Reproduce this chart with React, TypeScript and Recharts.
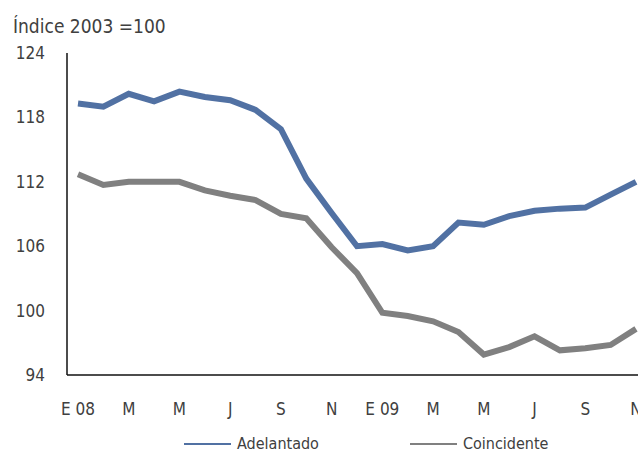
import React from 'react';
import { LineChart, Line, XAxis, YAxis } from 'recharts';

// Meses (E 08 .. N 09), se muestra uno de cada dos
const meses = [
  'E 08', 'F', 'M', 'A', 'M', 'J', 'J', 'A', 'S', 'O', 'N', 'D',
  'E 09', 'F', 'M', 'A', 'M', 'J', 'J', 'A', 'S', 'O', 'N',
];

const adelantado = [
  119.3, 119.0, 120.2, 119.5, 120.4, 119.9, 119.6, 118.7, 116.9, 112.3, 109.1, 106.0,
  106.2, 105.6, 106.0, 108.2, 108.0, 108.8, 109.3, 109.5, 109.6, 110.8, 112.0,
];

const coincidente = [
  112.7, 111.7, 112.0, 112.0, 112.0, 111.2, 110.7, 110.3, 109.0, 108.6, 105.9, 103.5,
  99.8, 99.5, 99.0, 98.0, 95.9, 96.6, 97.6, 96.3, 96.5, 96.8, 98.3,
];

const yTicks = [94, 100, 106, 112, 118, 124];

const series = [
  { key: 'adelantado', name: 'Adelantado', color: '#5171a3' },
  { key: 'coincidente', name: 'Coincidente', color: '#808080' },
];

const data = meses.map((mes, i) => ({
  mes,
  adelantado: adelantado[i],
  coincidente: coincidente[i],
}));

const FONT = '"Liberation Sans Narrow", "DejaVu Sans Condensed", "Roboto", sans-serif';
const TEXT = '#404040';

export default function App() {
  return (
    <div
      style={{
        position: 'absolute',
        left: 0,
        top: 0,
        width: 638,
        height: 453,
        overflow: 'hidden',
        background: '#fff',
        fontFamily: FONT,
      }}
    >
      <div style={{ position: 'absolute', left: 13, top: 15, fontSize: 19, lineHeight: '22px', color: TEXT, whiteSpace: 'pre' }}>
        Índice 2003 =100
      </div>

      <LineChart width={660} height={453} data={data} margin={{ top: 53, right: 10, left: 0, bottom: 0 }}>
        <XAxis
          dataKey="mes"
          interval={1}
          height={78}
          padding={{ left: 11, right: 14 }}
          axisLine={{ stroke: '#111', strokeWidth: 1.5 }}
          tickLine={false}
          tickSize={0}
          tickMargin={28}
          tick={{ fill: TEXT, fontSize: 17, fontFamily: FONT }}
        />
        <YAxis
          domain={[94, 124]}
          ticks={yTicks}
          width={67}
          axisLine={{ stroke: '#111', strokeWidth: 1.5 }}
          tickLine={false}
          tickSize={0}
          tickMargin={22}
          tick={{ fill: TEXT, fontSize: 17, fontFamily: FONT }}
        />
        {series.map((s) => (
          <Line
            key={s.key}
            type="linear"
            dataKey={s.key}
            name={s.name}
            stroke={s.color}
            strokeWidth={6}
            dot={false}
            isAnimationActive={false}
          />
        ))}
      </LineChart>

      {/* Leyenda */}
      <div style={{ position: 'absolute', left: 184, top: 434, display: 'flex', alignItems: 'center', fontSize: 16, lineHeight: '20px', color: TEXT }}>
        {series.map((s, i) => (
          <div key={s.key} style={{ display: 'flex', alignItems: 'center', marginRight: i === 0 ? 91 : 0 }}>
            <svg width={47} height={4} style={{ marginRight: 6 }}>
              <line x1={0} y1={2} x2={47} y2={2} stroke={s.color} strokeWidth={2} />
            </svg>
            <span>{s.name}</span>
          </div>
        ))}
      </div>
    </div>
  );
}
